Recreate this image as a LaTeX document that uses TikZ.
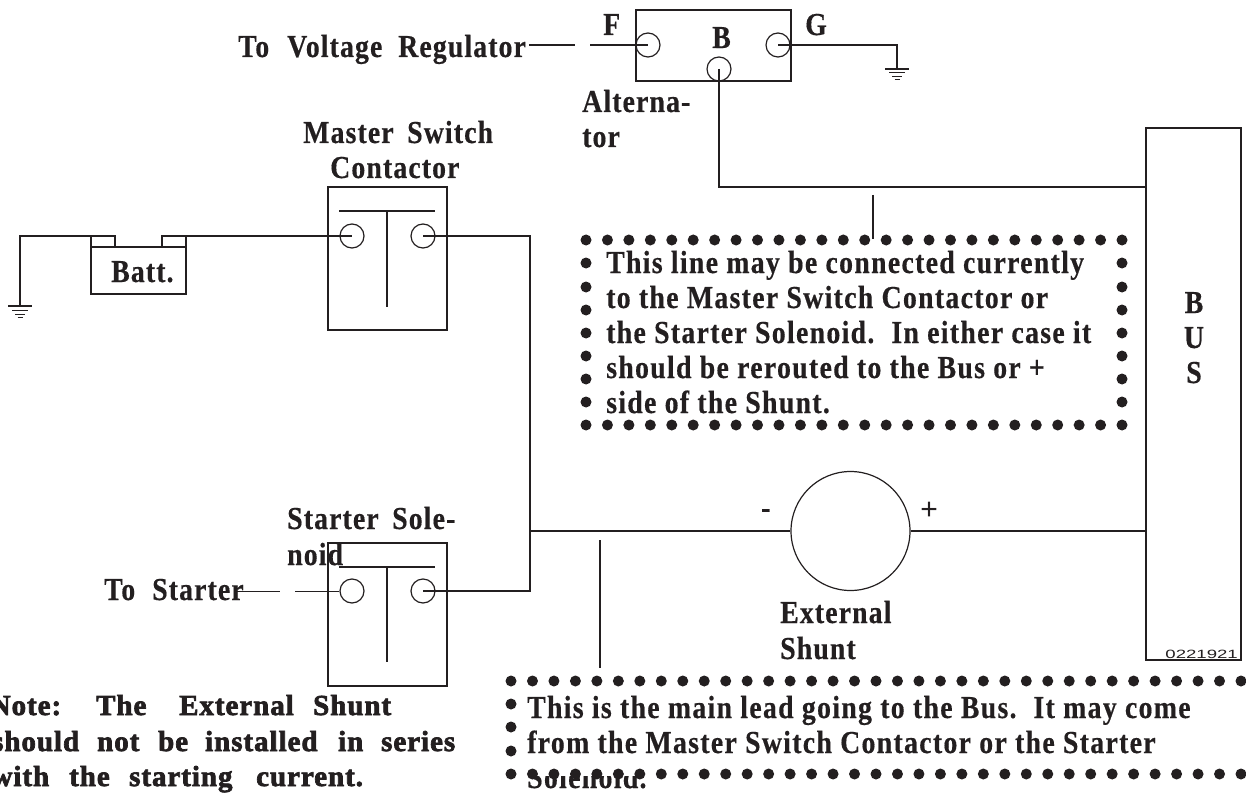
\documentclass[tikz,border=0pt]{standalone}
\usepackage{fontspec}
\setmainfont{Liberation Serif}
\newfontfamily\labfont[FakeStretch=0.87,LetterSpace=3.4,FakeBold=0.4]{Liberation Serif Bold}
\newfontfamily\bodyfont[FakeStretch=0.87,LetterSpace=4,FakeBold=0.4]{Liberation Serif Bold}
\newfontfamily\notefont[FakeBold=2.4,LetterSpace=3.3]{Liberation Serif Bold}
\newfontfamily\codefont{Liberation Sans}
\definecolor{ink}{HTML}{231F20}
\tikzset{
  wire/.style={draw=ink,line width=1.3pt,line join=miter},
  term/.style={circle,draw=ink,line width=1.2pt,minimum size=24pt,inner sep=0pt,fill=none},
  lab/.style={anchor=base west,inner sep=0pt,text=ink,font=\labfont\fontsize{32}{34}\selectfont},
  body/.style={anchor=base west,inner sep=0pt,text=ink,font=\bodyfont\fontsize{32}{34}\selectfont},
  note/.style={anchor=base west,inner sep=0pt,text=ink,font=\notefont\fontsize{29}{34}\selectfont},
  dot/.style={circle,fill=ink,inner sep=0pt,minimum size=11pt},
}
\newcommand{\gnd}[2]{%
  \draw[wire] (#1-12,#2) -- (#1+12,#2);
  \draw[wire,line width=1pt] (#1-8,#2+4) -- (#1+8,#2+4);
  \draw[wire,line width=1pt] (#1-5,#2+8) -- (#1+5,#2+8);
  \draw[wire,line width=1pt] (#1-2.5,#2+11) -- (#1+2.5,#2+11);
}
\newcommand{\wrd}[2]{\makebox[#1pt][l]{#2}}
\begin{document}
\begin{tikzpicture}[x=1pt,y=-1pt]
\useasboundingbox (0,0) rectangle (1246,794);
\clip (0,0) rectangle (1246,794);
% alternator
\node[draw=ink,line width=1.4pt,minimum width=155pt,minimum height=71pt,inner sep=0pt] (alt) at (713.5,45.5) {};
\node[term] (tF) at (648,45) {};
\node[term] (tG) at (778,45) {};
\node[term] (tB) at (719,69) {};
\coordinate (regA) at (529,45); \coordinate (regB) at (575,45); \coordinate (regC) at (590,45);
\draw[wire] (regA) -- (regB);
\draw[wire] (regC) -- (tF.center);
\coordinate (gA) at (897,69);
\draw[wire] (tG.center) -| (gA);
\gnd{897}{69}
\node[draw=ink,line width=1.4pt,minimum width=95pt,minimum height=532pt,inner sep=0pt] (bus) at (1193.5,394) {};
\coordinate (busB) at (1146,187);
\coordinate (busS) at (1146,531);
\draw[wire] (tB.center) |- (busB);
% battery
\node[draw=ink,line width=1.4pt,minimum width=95pt,minimum height=47pt,inner sep=0pt] (bat) at (138.5,270.5) {};
\coordinate (bL1) at (91,247); \coordinate (bL2) at (91,236); \coordinate (bL3) at (115,236); \coordinate (bL4) at (115,247);
\coordinate (bR1) at (162,247); \coordinate (bR2) at (162,236); \coordinate (bR3) at (186,236); \coordinate (bR4) at (186,247);
\draw[wire] (bL1) -- (bL2) -- (bL3) -- (bL4);
\draw[wire] (bR1) -- (bR2) -- (bR3) -- (bR4);
\coordinate (gB) at (20,306);
\draw[wire] (bL2) -| (gB);
\gnd{20}{306}
% master
\node[draw=ink,line width=1.4pt,minimum width=119pt,minimum height=143pt,inner sep=0pt] (mast) at (387.5,258.5) {};
\node[term] (mL) at (352,236) {};
\node[term] (mR) at (423,236) {};
\coordinate (mB1) at (339,211); \coordinate (mB2) at (435,211); \coordinate (mS1) at (387,211); \coordinate (mS2) at (387,307);
\draw[wire,line width=1.1pt] (mB1) -- (mB2);
\draw[wire,line width=1.1pt] (mS1) -- (mS2);
\draw[wire] (bR3) -- (mL.center);
% starter
\node[draw=ink,line width=1.4pt,minimum width=119pt,minimum height=143pt,inner sep=0pt] (star) at (387.5,614.5) {};
\node[term] (sL) at (352,591) {};
\node[term] (sR) at (423,591) {};
\coordinate (sB1) at (339,567); \coordinate (sB2) at (435,567); \coordinate (sS1) at (387,567); \coordinate (sS2) at (387,662);
\draw[wire,line width=1.1pt] (sB1) -- (sB2);
\draw[wire,line width=1.1pt] (sS1) -- (sS2);
\coordinate (stA) at (236,591); \coordinate (stB) at (280,591); \coordinate (stC) at (295,591);
\draw[wire,line width=1pt] (stA) -- (stB);
\draw[wire,line width=1pt] (stC) -- (sL.west);
% common lead
\coordinate (jn) at (530,531);
\draw[wire] (mR.center) -| (jn);
\draw[wire] (sR.center) -| (jn);
\node[circle,draw=ink,line width=1.2pt,minimum size=119pt,inner sep=0pt] (shunt) at (850.5,531) {};
\draw[wire] (jn) -- (shunt.west);
\draw[wire] (shunt.east) -- (busS);
% callout leaders
\coordinate (c1a) at (873,195); \coordinate (c1b) at (873,239);
\draw[wire,line width=1.6pt] (c1a) -- (c1b);
\coordinate (c2a) at (600,540); \coordinate (c2b) at (600,668);
\draw[wire,line width=1.6pt] (c2a) -- (c2b);
% labels
\node[lab] (t1) at (238,57) {\wrd{49}{To}\wrd{111}{Voltage}Regulator};
\node[lab] (t2) at (603,35) {F};
\node[lab] (t3) at (712,48) {B};
\node[lab] (t4) at (805,35) {G};
\node[lab] (t5) at (582,112) {Alterna-};
\node[lab] (t6) at (582,147) {tor};
\node[lab] (t7) at (303,143) {\wrd{104}{Master}Switch};
\node[lab] (t8) at (330,178) {Contactor};
\node[lab] (t9) at (111,282) {Batt.};
\node[lab] (t10) at (287,529) {\wrd{105}{Starter}Sole-};
\node[lab] (t11) at (287,565) {noid};
\node[lab] (t12) at (104,600) {\wrd{48}{To}Starter};
\node[lab] (t13) at (780,623) {External};
\node[lab] (t14) at (780,659) {Shunt};
\node[lab] (t15) at (761,518) {-};
\node[anchor=base,inner sep=0pt,text=ink,font=\codefont\fontsize{30}{32}\selectfont] (t16) at (929,519) {+};
\node[lab,anchor=base] (t17) at (1194,313) {B};
\node[lab,anchor=base] (t18) at (1194,348) {U};
\node[lab,anchor=base] (t19) at (1194,383) {S};
\node[anchor=base east,inner sep=0pt,text=ink,font=\codefont\fontsize{12}{14}\selectfont] (t20) at (1238,658) {\scalebox{1.55}[1]{0221921}};
% callout 1
\node[body] (c1l1) at (606,273) {This line may be connected currently};
\node[body] (c1l2) at (606,308) {to the Master Switch Contactor or};
\node[body] (c1l3) at (606,343) {the Starter Solenoid.\hspace{6pt} In either case it};
\node[body] (c1l4) at (606,378) {should be rerouted to the Bus or +};
\node[body] (c1l5) at (606,413) {side of the Shunt.};
\foreach \i in {0,...,25} {
  \node[dot] (c1t\i) at ({586+\i*21.44},240) {};
  \node[dot] (c1b\i) at ({586+\i*21.44},425) {};
}
\foreach \y in {263,287,310,333,356,379,402} {
  \node[dot] (c1w\y) at (586,\y) {};
  \node[dot] (c1e\y) at (1122,\y) {};
}
% callout 2
\node[body] (c2l1) at (527,718) {This is the main lead going to the Bus.\hspace{6pt} It may come};
\node[body] (c2l2) at (527,753) {from the Master Switch Contactor or the Starter};
\begin{scope}
\clip (500,776) rectangle (700,794);
\node[body] (c2l3) at (527,788) {Solenoid.};
\end{scope}
\foreach \i in {0,...,34} {
  \node[dot] (c2t\i) at ({511+\i*21.47},681) {};
  \node[dot] (c2b\i) at ({511+\i*21.47},774) {};
}
\node[dot] (c2w1) at (511,704) {};
\node[dot] (c2w2) at (511,727) {};
\node[dot] (c2w3) at (511,751) {};
% note
\node[note] (n1) at (0,715) {\makebox[61pt][r]{Note:}\makebox[35pt]{}\wrd{83}{The}\wrd{134}{External}Shunt};
\node[note] (n2) at (0,751) {\makebox[79pt][r]{should}\makebox[18pt]{}\wrd{61}{not}\wrd{47}{be}\wrd{133}{installed}\wrd{43}{in}series};
\node[note] (n3) at (0,786) {\makebox[49pt][r]{with}\makebox[20pt]{}\wrd{60}{the}\wrd{127}{starting}current.};
\end{tikzpicture}
\end{document}
